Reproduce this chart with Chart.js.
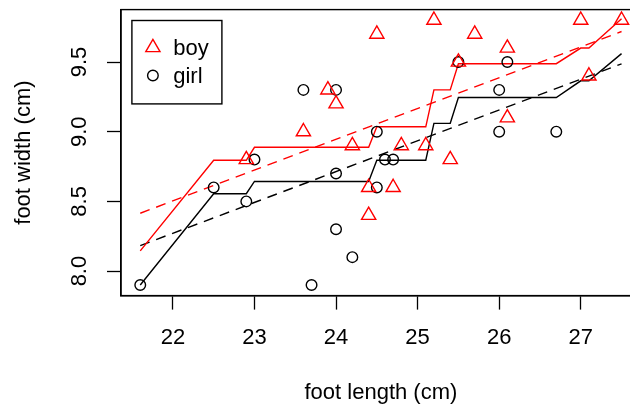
<!DOCTYPE html>
<html>
<head>
<meta charset="utf-8">
<script src="https://cdn.jsdelivr.net/npm/chart.js@4.4.1/dist/chart.umd.min.js"></script>
<style>
  html, body { margin: 0; padding: 0; overflow: hidden; background: #fff; }
  #c { display: block; }
</style>
</head>
<body>
<canvas id="c" width="630" height="408" style="width:630px;height:408px"></canvas>
<script>
// ---- data ----
const boyLength  = [22.9, 23.6, 23.9, 24.0, 24.2, 24.4, 24.4, 24.5, 24.7, 24.8, 25.1, 25.2, 25.4, 25.5, 25.7, 26.1, 26.1, 27.0, 27.1, 27.5];
const boyWidth   = [8.8, 9.0, 9.3, 9.2, 8.9, 8.4, 8.6, 9.7, 8.6, 8.9, 8.9, 9.8, 8.8, 9.5, 9.7, 9.6, 9.1, 9.8, 9.4, 9.8];
const girlLength = [21.6, 22.5, 22.9, 23.0, 23.6, 23.7, 24.0, 24.0, 24.0, 24.2, 24.5, 24.5, 24.6, 24.7, 25.5, 26.0, 26.0, 26.1, 26.7];
const girlWidth  = [7.9, 8.6, 8.5, 8.8, 9.3, 7.9, 9.3, 8.7, 8.3, 8.1, 9.0, 8.6, 8.8, 8.8, 9.5, 9.3, 9.0, 9.5, 9.0];

// monotone (step) fits
const fitLength = [21.6, 22.5, 22.9, 23.0, 24.4, 24.5, 25.1, 25.2, 25.4, 25.5, 26.7, 27.0, 27.1, 27.5];
const boyFit    = [8.145, 8.795, 8.795, 8.888, 8.888, 9.035, 9.035, 9.30, 9.30, 9.488, 9.488, 9.60, 9.60, 9.81];
const girlFit   = [7.90, 8.555, 8.555, 8.643, 8.643, 8.795, 8.795, 9.06, 9.06, 9.245, 9.245, 9.365, 9.365, 9.56];

// linear fits
const lineLength = [21.6, 27.5];
const boyLinear  = [8.415, 9.719];
const girlLinear = [8.183, 9.487];

// axes
const xTicks = [22, 23, 24, 25, 26, 27];
const yTicks = [8.0, 8.5, 9.0, 9.5];
const xRange = [21.364, 27.736];
const yRange = [7.824, 9.876];

const seriesLabels = ['boy', 'girl'];
const xTitle = 'foot length (cm)';
const yTitle = 'foot width (cm)';

// ---- helpers ----
const pts = (xs, ys) => xs.map((x, i) => ({x: x, y: ys[i]}));
const FONT = '"Liberation Sans", Arial, Helvetica, sans-serif';
const RED = '#FF0000', BLACK = '#000000';
const PLOT_WIDTH = 519.8;   // plot region runs past the right edge of the picture

const extendRight = {
  id: 'extendRight',
  afterLayout(chart) {
    const s = chart.scales.x, a = chart.chartArea;
    const right = a.left + PLOT_WIDTH;
    a.right = right; a.width = right - a.left;
    s.right = right; s.width = right - s.left;
    s.configure();
  }
};

const frameAndLegend = {
  id: 'frameAndLegend',
  afterDraw(chart) {
    const ctx = chart.ctx, a = chart.chartArea;
    ctx.save();
    ctx.strokeStyle = BLACK;
    ctx.lineWidth = 1.4;
    ctx.strokeRect(a.left, a.top, a.right - a.left, a.bottom - a.top);
    // legend box
    const bx = a.left + 10.9, by = a.top + 10.9, bw = 90, bh = 83.4;
    ctx.strokeRect(bx, by, bw, bh);
    ctx.font = '22px ' + FONT;
    ctx.textBaseline = 'middle';
    ctx.textAlign = 'left';
    const rows = [47.5, 75.5];
    [0, 1].forEach((di, k) => {
      const ds = chart.data.datasets[di];
      ctx.strokeStyle = ds.borderColor;
      ctx.fillStyle = 'rgba(0,0,0,0)';
      ctx.lineWidth = ds.borderWidth;
      Chart.helpers.drawPoint(ctx, {pointStyle: ds.pointStyle, radius: ds.pointRadius, borderWidth: ds.borderWidth, rotation: 0}, bx + 21, rows[k]);
      ctx.fillStyle = BLACK;
      ctx.fillText(ds.label, bx + 41.3, rows[k] + 1);
    });
    ctx.restore();
  }
};

new Chart(document.getElementById('c'), {
  type: 'scatter',
  data: {
    datasets: [
      { label: seriesLabels[0], data: pts(boyLength, boyWidth), pointStyle: 'triangle', pointRadius: 8.2,
        borderColor: RED, backgroundColor: 'rgba(0,0,0,0)', borderWidth: 1.4, showLine: false },
      { label: seriesLabels[1], data: pts(girlLength, girlWidth), pointStyle: 'circle', pointRadius: 5.3,
        borderColor: BLACK, backgroundColor: 'rgba(0,0,0,0)', borderWidth: 1.4, showLine: false },
      { label: 'boy fit', data: pts(fitLength, boyFit), showLine: true, pointRadius: 0, borderColor: RED, borderWidth: 1.4, tension: 0 },
      { label: 'girl fit', data: pts(fitLength, girlFit), showLine: true, pointRadius: 0, borderColor: BLACK, borderWidth: 1.4, tension: 0 },
      { label: 'boy linear', data: pts(lineLength, boyLinear), showLine: true, pointRadius: 0, borderColor: RED, borderWidth: 1.4, borderDash: [10, 7] },
      { label: 'girl linear', data: pts(lineLength, girlLinear), showLine: true, pointRadius: 0, borderColor: BLACK, borderWidth: 1.4, borderDash: [10, 7] }
    ]
  },
  options: {
    responsive: false,
    maintainAspectRatio: false,
    devicePixelRatio: 1,
    animation: false,
    layout: { padding: { top: 8.4, left: 0, right: 0, bottom: 0 } },
    plugins: { legend: { display: false }, tooltip: { enabled: false } },
    scales: {
      x: {
        type: 'linear', position: 'bottom', min: xRange[0], max: xRange[1],
        afterBuildTicks: s => { s.ticks = xTicks.map(v => ({value: v})); },
        afterFit: s => { s.height = 112.4; s.paddingLeft = 0; s.paddingRight = 0; },
        ticks: { autoSkip: false, maxRotation: 0, padding: 15.2, color: BLACK,
                 font: { size: 22, family: FONT }, callback: v => String(v) },
        grid: { display: true, drawOnChartArea: false, drawTicks: true, tickLength: 14, tickColor: BLACK, tickWidth: 1.3 },
        border: { display: true, color: BLACK, width: 1.4 },
        title: { display: true, text: xTitle, color: BLACK, font: { size: 22, family: FONT }, padding: { top: 0, bottom: 1.8 } }
      },
      y: {
        type: 'linear', position: 'left', min: yRange[0], max: yRange[1],
        afterBuildTicks: s => { s.ticks = yTicks.map(v => ({value: v})); },
        afterFit: s => { s.width = 121; s.paddingTop = 0; s.paddingBottom = 0; },
        ticks: { autoSkip: false, minRotation: 90, maxRotation: 90, crossAlign: 'center', padding: 11.7, color: BLACK,
                 font: { size: 22, family: FONT }, callback: v => Number(v).toFixed(1) },
        grid: { display: true, drawOnChartArea: false, drawTicks: true, tickLength: 14, tickColor: BLACK, tickWidth: 1.3 },
        border: { display: true, color: BLACK, width: 1.4 },
        title: { display: true, text: yTitle, color: BLACK, font: { size: 22, family: FONT }, padding: { top: 11, bottom: 0 } }
      }
    }
  },
  plugins: [extendRight, frameAndLegend]
});
</script>
</body>
</html>
